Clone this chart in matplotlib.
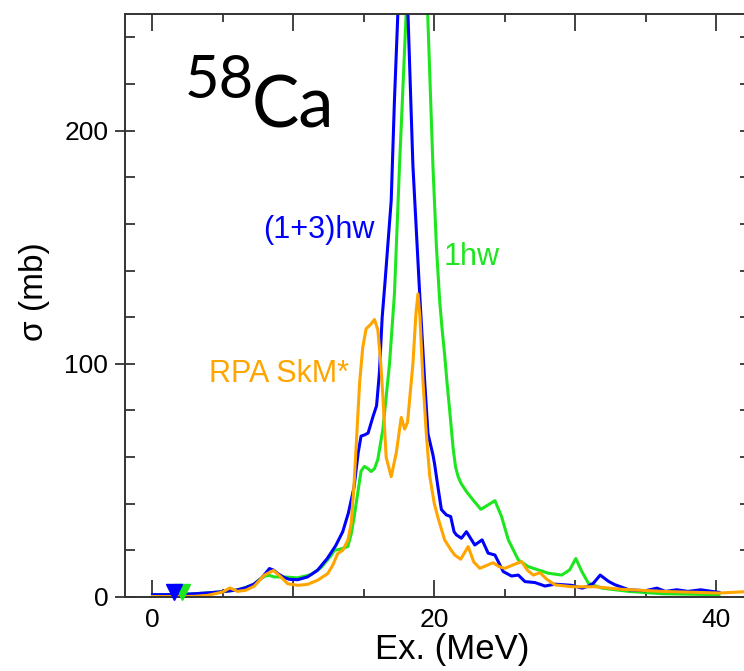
import matplotlib
matplotlib.use("Agg")
import matplotlib.pyplot as plt
from matplotlib.ticker import FixedLocator

# Ex. (MeV) vs sigma (mb)
e_13hw = [0, 1, 2, 3, 4, 5, 6, 6.6, 7.2, 7.7, 8.0, 8.3, 8.6, 8.9, 9.3, 9.7, 10.3,
          11.0, 11.7, 12.4, 13.0, 13.5, 13.9, 14.3, 14.6, 14.8, 15.05, 15.3, 15.65,
          15.9, 16.1, 16.3, 16.5, 16.94, 17.17, 17.41, 17.6, 17.8, 17.95, 18.13,
          18.48, 18.96, 19.31, 19.55, 19.9, 20.02, 20.26, 20.5, 20.85, 21.16, 21.4,
          21.57, 21.92, 22.28, 22.87, 23.39, 23.82, 24.3, 24.89, 25.48, 25.96, 26.43,
          27.14, 27.85, 28.56, 29.75, 30.5, 30.94, 31.3, 31.77, 32.36, 32.8, 33.8,
          34.97, 35.8, 36.4, 37.2, 38.0, 38.9, 39.7, 40.2]
s_13hw = [1.0, 1.0, 1.1, 1.4, 1.8, 2.3, 3.0, 4.0, 5.5, 7.9, 10.0, 12.2, 11.5, 10.0,
          8.5, 7.6, 7.4, 8.6, 11.4, 16.5, 22, 28, 36, 47, 62, 69, 69.5, 70.3, 77.4,
          82, 96, 120, 135, 170, 213, 250, 290, 310, 290, 250, 185, 130, 93, 70, 61,
          57, 47, 37.5, 35.2, 34.5, 28, 26.6, 25.2, 28, 22.3, 24.5, 18.8, 18, 10.9,
          9, 9.4, 6.6, 6.2, 4.7, 5.5, 5, 3.8, 4.7, 6, 9.4, 6.7, 5.3, 3.1, 2.7, 3.8,
          2.4, 3.1, 2.4, 3.1, 2.4, 2.0]

e_1hw = [0, 1, 2, 3, 4, 5, 6, 6.6, 7.2, 7.69, 8.0, 8.28, 8.63, 9.35, 10.3, 11.25,
         11.96, 12.67, 12.9, 13.3, 13.86, 14.1, 14.33, 14.6, 14.8, 15.04, 15.3,
         15.52, 15.75, 15.99, 16.35, 16.82, 17.17, 17.53, 18.0, 18.3, 18.6, 18.9,
         19.2, 19.5, 19.9, 20.15, 20.38, 20.55, 20.73, 20.9, 21.09, 21.33, 21.5,
         21.69, 21.92, 22.28, 22.75, 23.3, 23.82, 24.3, 24.77, 25.25, 25.96, 26.67,
         27.38, 28.09, 29.04, 29.6, 30.04, 30.46, 30.94, 31.9, 33.8, 36.2, 40.2]
s_1hw = [1.0, 1.0, 1.1, 1.4, 1.8, 2.3, 3.0, 4.0, 5.5, 7.9, 9.0, 9.3, 8.6, 8.6, 8.2,
         9.6, 12.6, 17.7, 20, 20.5, 21.6, 27, 35, 46, 54, 56, 55, 53.8, 55, 59, 72,
         100, 130, 185, 250, 295, 335, 350, 310, 255, 185, 150, 127, 115, 104, 92,
         80, 64, 56, 51.6, 48.5, 45.2, 41.6, 37.6, 39.5, 41.3, 34.5, 24.5, 15.9, 13,
         11.6, 10.2, 9.4, 11.6, 16.5, 11, 5.8, 3.8, 2.4, 1.4, 1.0]

e_rpa = [0, 2, 3, 3.9, 4.96, 5.5, 6.03, 6.62, 7.21, 7.92, 8.59, 9.11, 9.59, 10.3,
         11.0, 11.72, 12.43, 12.79, 13.14, 13.5, 13.86, 14.1, 14.3, 14.45, 14.7,
         14.92, 15.16, 15.5, 15.75, 15.99, 16.2, 16.35, 16.58, 16.94, 17.3, 17.65,
         17.9, 18.1, 18.48, 18.7, 18.84, 18.98, 19.19, 19.43, 19.67, 20.0, 20.26,
         20.73, 21.2, 21.45, 21.87, 22.4, 22.8, 23.23, 23.7, 24.17, 24.6, 25.0,
         25.6, 26.19, 26.6, 27.02, 27.5, 28.0, 28.56, 29.75, 31.4, 33.3, 36.2,
         40.2, 42.5]
s_rpa = [0.2, 0.2, 0.3, 0.7, 2.1, 3.9, 2.4, 2.9, 4.6, 9.3, 11.4, 8.6, 5.7, 5.0, 5.4,
         7.2, 10, 13.6, 18.6, 20, 24.3, 31.5, 48, 64.5, 92, 107, 115, 117, 119,
         114.6, 100, 86, 60, 51.6, 61.8, 77, 72, 75, 100, 122, 130, 120, 93, 70, 52,
         40, 34, 24.5, 20, 18, 16.2, 21.6, 15, 12.3, 13.5, 14.7, 13, 12.3, 13.8,
         15.2, 11.5, 9.4, 10.4, 7.5, 5.2, 4.4, 4.4, 3.3, 2.4, 1.7, 2.4]

# threshold markers
e_thr_1hw, s_thr_1hw = [2.1], [2.0]
e_thr_13hw, s_thr_13hw = [1.5], [2.0]

BLUE = "#0000ff"
GREEN = "#1ee61e"
ORANGE = "#ffa500"

plt.rcParams["font.family"] = ["Liberation Sans", "DejaVu Sans"]

fig = plt.figure(figsize=(7.44, 6.71), dpi=100)
# right edge of the axes sits just past the picture edge, like the reference
ax = fig.add_axes([125 / 744, 1 - 597 / 671, 625 / 744, 583 / 671])

ax.plot(e_1hw, s_1hw, color=GREEN, lw=2.2)
ax.plot(e_13hw, s_13hw, color=BLUE, lw=2.2)
ax.plot(e_rpa, s_rpa, color=ORANGE, lw=2.2)

ax.plot(e_thr_1hw, s_thr_1hw, "v", color=GREEN, ms=12, clip_on=False, zorder=5)
ax.plot(e_thr_13hw, s_thr_13hw, "v", color=BLUE, ms=12, clip_on=False, zorder=6)

ax.set_xlim(-1.95, 42.4)
ax.set_ylim(0, 250)

ax.xaxis.set_major_locator(FixedLocator([0, 10, 20, 30, 40]))
ax.set_xticklabels(["0", "", "20", "", "40"])
ax.xaxis.set_minor_locator(FixedLocator([5, 15, 25, 35]))
ax.yaxis.set_major_locator(FixedLocator([0, 100, 200]))
ax.yaxis.set_minor_locator(FixedLocator([20, 40, 60, 80, 120, 140, 160, 180, 220, 240]))

ax.tick_params(axis="x", which="major", direction="in", length=12, width=1.3,
               top=True, labelsize=19, pad=8, color="#333333")
ax.tick_params(axis="x", which="minor", direction="in", length=6, width=1.3,
               top=True, color="#333333")
ax.tick_params(axis="y", which="major", direction="inout", length=14, width=1.3,
               right=True, labelsize=19, pad=5, color="#333333")
ax.tick_params(axis="y", which="minor", direction="in", length=7, width=1.3,
               right=True, color="#333333")
for sp in ax.spines.values():
    sp.set_linewidth(1.4)
    sp.set_color("#333333")

ax.set_xlabel("Ex. (MeV)", fontsize=25)
ax.xaxis.set_label_coords(0.523, -0.062)
ax.set_ylabel("σ (mb)", fontsize=24)
ax.yaxis.set_label_coords(-0.12, 0.523)

ax.text(7.83, 154, "(1+3)hw", color=BLUE, fontsize=22, ha="left", va="baseline")
ax.text(20.64, 142.5, "1hw", color=GREEN, fontsize=22, ha="left", va="baseline")
ax.text(3.99, 92.3, "RPA SkM*", color=ORANGE, fontsize=22, ha="left", va="baseline")

fig.text(185 / 744, 1 - 98 / 671, "58", fontsize=43, family="Lato", va="baseline")
fig.text(252 / 744, 1 - 128 / 671, "Ca", fontsize=51, family="Lato", va="baseline")

fig.savefig("out.png", dpi=100)
